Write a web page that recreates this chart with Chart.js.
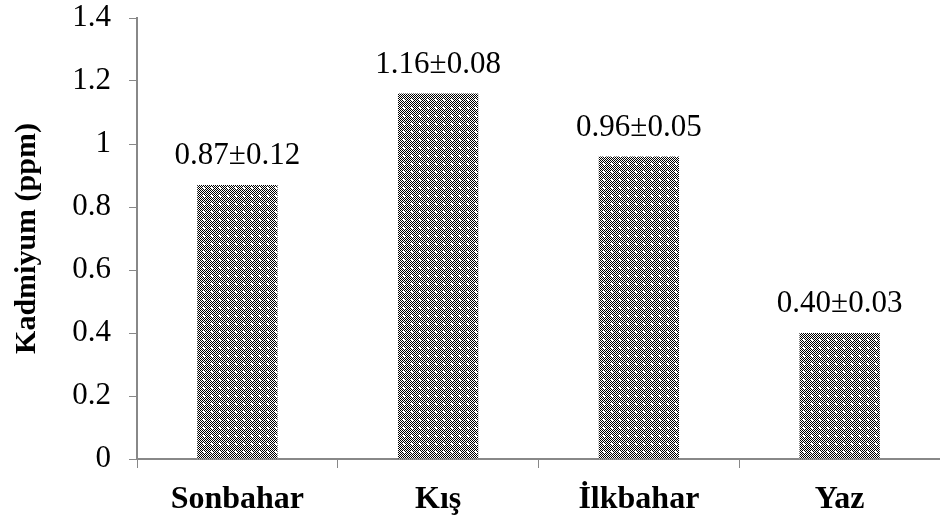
<!DOCTYPE html>
<html>
<head>
<meta charset="utf-8">
<script src="https://cdn.jsdelivr.net/npm/chart.js@4"></script>
<style>
  html, body { margin: 0; padding: 0; background: #fff; }
  #wrap { width: 940px; height: 517px; }
</style>
</head>
<body>
<div id="wrap"><canvas id="grafico"></canvas></div>
<script>
const mevsimler = ["Sonbahar", "Kış", "İlkbahar", "Yaz"];
const kadmiyum = [0.87, 1.16, 0.96, 0.40];
const sapma = [0.12, 0.08, 0.05, 0.03];
const yEtiketleri = ["0", "0.2", "0.4", "0.6", "0.8", "1", "1.2", "1.4"];

// noktalı dolgu deseni
function desenYap() {
  const c = document.createElement("canvas");
  c.width = 8; c.height = 8;
  const g = c.getContext("2d");
  g.fillStyle = "#fff";
  g.fillRect(0, 0, 8, 8);
  g.fillStyle = "#000";
  for (let y = 0; y < 8; y++) {
    for (let x = 0; x < 8; x++) {
      if ((x + y) % 2 === 0) g.fillRect(x, y, 1, 1);
    }
  }
  g.fillStyle = "#fff";
  g.fillRect(3, 3, 2, 2);
  g.fillRect(3, 2, 1, 1);
  g.fillRect(4, 5, 1, 1);
  return g.createPattern(c, "repeat");
}

const etiketEklentisi = {
  id: "degerEtiketleri",
  afterDatasetsDraw(chart) {
    const ctx = chart.ctx;
    const meta = chart.getDatasetMeta(0);
    ctx.save();
    ctx.font = "31px 'Liberation Serif'";
    ctx.fillStyle = "#000";
    ctx.textAlign = "center";
    ctx.textBaseline = "alphabetic";
    meta.data.forEach((bar, i) => {
      const metin = kadmiyum[i].toFixed(2) + "±" + sapma[i].toFixed(2);
      ctx.fillText(metin, bar.x, bar.y - 21);
    });
    ctx.restore();
  }
};

const ctx = document.getElementById("grafico").getContext("2d");

new Chart(ctx, {
  type: "bar",
  data: {
    labels: mevsimler,
    datasets: [{
      data: kadmiyum,
      backgroundColor: desenYap(),
      borderWidth: 0,
      barPercentage: 0.4,
      categoryPercentage: 1
    }]
  },
  options: {
    responsive: true,
    maintainAspectRatio: false,
    animation: false,
    layout: { padding: { top: 18, right: 0, left: 0, bottom: 0 } },
    plugins: {
      legend: { display: false },
      tooltip: { enabled: false }
    },
    scales: {
      x: {
        grid: { drawOnChartArea: false, drawTicks: true, tickLength: 9, color: "#888", offset: true },
        border: { color: "#888", width: 2 },
        ticks: {
          color: "#000",
          padding: 13,
          font: { family: "'Liberation Serif'", size: 32, weight: "bold" }
        },
        afterFit(scale) {
          scale.height = 58;
          scale.paddingLeft = 0;
          scale.paddingRight = 0;
        }
      },
      y: {
        min: 0,
        max: 1.4,
        grid: { drawOnChartArea: false, drawTicks: true, tickLength: 8, color: "#888" },
        border: { color: "#888", width: 2 },
        ticks: {
          stepSize: 0.2,
          color: "#000",
          padding: 18,
          font: { family: "'Liberation Serif'", size: 31 },
          callback: (v, i) => yEtiketleri[i]
        },
        title: {
          display: true,
          text: "Kadmiyum (ppm)",
          color: "#000",
          padding: { top: 9, bottom: 0 },
          font: { family: "'Liberation Serif'", size: 30, weight: "bold" }
        },
        afterFit(scale) {
          scale.width = 137;
          scale.paddingTop = 0;
          scale.paddingBottom = 0;
        }
      }
    }
  },
  plugins: [etiketEklentisi]
});
</script>
</body>
</html>
